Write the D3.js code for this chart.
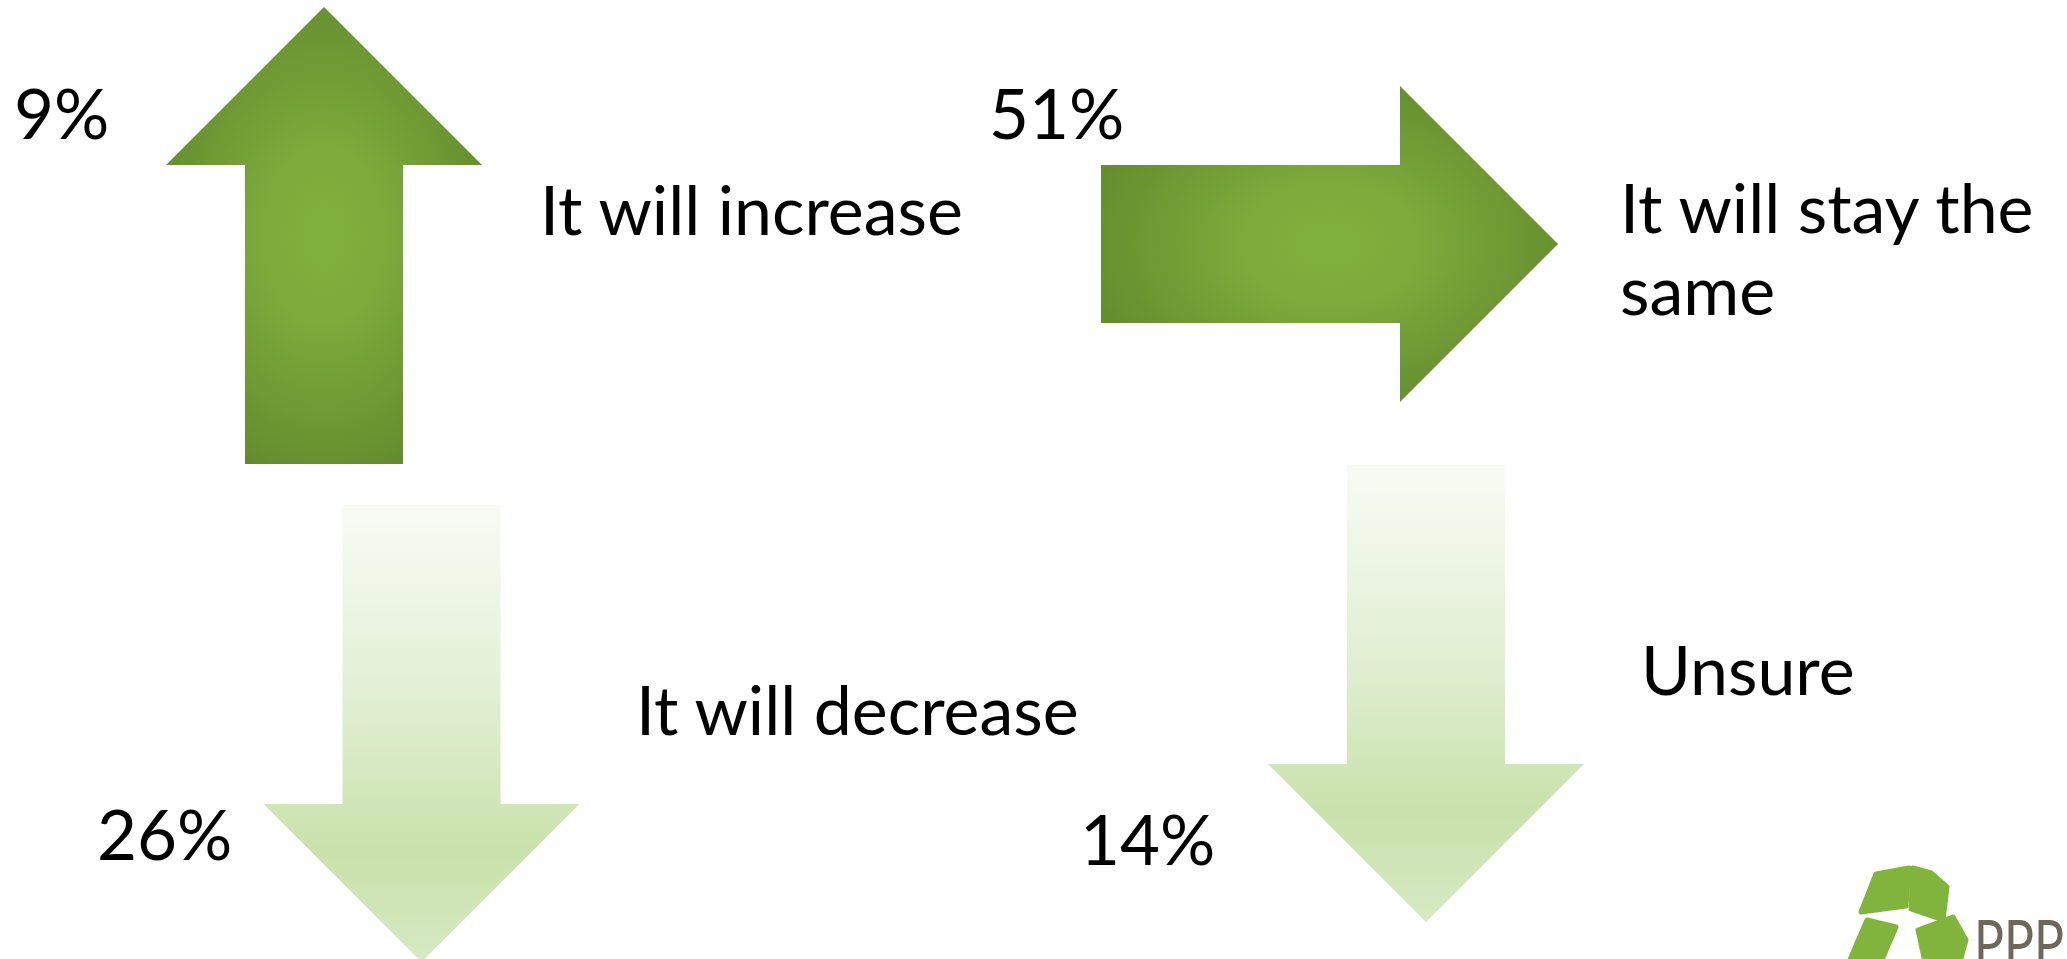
<!DOCTYPE html>
<html>
<head>
<meta charset="utf-8">
<script src="https://cdn.jsdelivr.net/npm/d3@7"></script>
<style>
  html, body { margin: 0; padding: 0; background: #fff; overflow: hidden; }
  text { font-family: Lato, "Open Sans", sans-serif; fill: #000; }
</style>
</head>
<body>
<svg></svg>
<script>
var width = 2067;
var height = 959;

// answers and shares (%)
var categories = ["It will increase", "It will stay the same", "It will decrease", "Unsure"];
var values = [9, 51, 26, 14];
var directions = ["up", "right", "down", "down"];
var shades = ["dark", "dark", "pale", "pale"];

// where each answer sits on the slide
var layout = [
  {tail: [324, 464], label: [540, 235], lines: ["It will increase"], pct: [14, 139]},
  {tail: [1101, 244], label: [1620, 233], lines: ["It will stay the", "same"], pct: [989, 139]},
  {tail: [421.5, 505], label: [636, 735], lines: ["It will decrease"], pct: [97, 860]},
  {tail: [1426, 465], label: [1641, 695], lines: ["Unsure"], pct: [1080, 865]}
];

var angle = {right: 0, down: 90, up: -90};

// arrow shape, drawn pointing right from its tail
var arrowLen = 457, shaftW = 158, headW = 316, headLen = 158;
var arrowPts = [
  [0, -shaftW / 2], [arrowLen - headLen, -shaftW / 2], [arrowLen - headLen, -headW / 2],
  [arrowLen, 0],
  [arrowLen - headLen, headW / 2], [arrowLen - headLen, shaftW / 2], [0, shaftW / 2]
];

var svg = d3.select("svg")
    .attr("width", width)
    .attr("height", height);

var defs = svg.append("defs");

// dark green: light centre, darker ends
var dark = defs.append("radialGradient")
    .attr("id", "g-dark")
    .attr("cx", 0.5).attr("cy", 0.5).attr("r", 0.55);
dark.append("stop").attr("offset", "0").attr("stop-color", "#80b03e");
dark.append("stop").attr("offset", "0.35").attr("stop-color", "#7cab3b");
dark.append("stop").attr("offset", "1").attr("stop-color", "#648c2e");

// pale green: fades in from the tail
var pale = defs.append("linearGradient")
    .attr("id", "g-pale")
    .attr("x1", 0).attr("y1", 0).attr("x2", 1).attr("y2", 0);
pale.append("stop").attr("offset", "0").attr("stop-color", "#f8fbf4");
pale.append("stop").attr("offset", "0.4").attr("stop-color", "#e3f0d5");
pale.append("stop").attr("offset", "0.76").attr("stop-color", "#c9e2ab");
pale.append("stop").attr("offset", "1").attr("stop-color", "#d6e9c4");

var line = d3.line().curve(d3.curveLinearClosed);

var items = categories.map(function(c, i) {
  return {name: c, value: values[i], dir: directions[i], shade: shades[i], pos: layout[i]};
});

var groups = svg.selectAll("g.item")
    .data(items)
    .enter().append("g")
    .attr("class", "item");

groups.append("path")
    .attr("class", "arrow")
    .attr("d", line(arrowPts))
    .attr("fill", function(d) { return "url(#g-" + d.shade + ")"; })
    .attr("transform", function(d) {
      return "translate(" + d.pos.tail[0] + "," + d.pos.tail[1] + ") rotate(" + angle[d.dir] + ")";
    });

var pctFmt = function(v) { return v + "%"; };

groups.append("text")
    .attr("class", "pct")
    .attr("x", function(d) { return d.pos.pct[0]; })
    .attr("y", function(d) { return d.pos.pct[1]; })
    .attr("font-size", 69)
    .text(function(d) { return pctFmt(d.value); });

var labels = groups.append("text")
    .attr("class", "label")
    .attr("x", function(d) { return d.pos.label[0]; })
    .attr("y", function(d) { return d.pos.label[1]; })
    .attr("font-size", 68);

labels.selectAll("tspan")
    .data(function(d) { return d.pos.lines.map(function(t) { return {t: t, x: d.pos.label[0]}; }); })
    .enter().append("tspan")
    .attr("x", function(d) { return d.x; })
    .attr("dy", function(d, i) { return i ? 82 : 0; })
    .text(function(d) { return d.t; });

// logo, bottom right corner (runs off the slide like the original)
var logo = svg.append("g").attr("class", "logo");
var petals = [
  [[1876, 874], [1909, 868], [1906, 906], [1861, 912]],
  [[1913, 868], [1931, 873], [1947, 887], [1943, 920], [1911, 909]],
  [[1867, 920], [1896, 927], [1881, 962], [1849, 962]],
  [[1918, 930], [1953, 917], [1966, 940], [1960, 962], [1925, 962]]
];
logo.selectAll("path")
    .data(petals)
    .enter().append("path")
    .attr("d", line)
    .attr("fill", "#80b43c")
    .attr("stroke", "#80b43c")
    .attr("stroke-width", 5)
    .attr("stroke-linejoin", "round");
logo.append("text")
    .attr("transform", "translate(1974,966) scale(0.78,1)")
    .attr("font-size", 64)
    .attr("font-family", "'Liberation Sans', sans-serif")
    .style("fill", "#6e675c")
    .text("PPP");
</script>
</body>
</html>
